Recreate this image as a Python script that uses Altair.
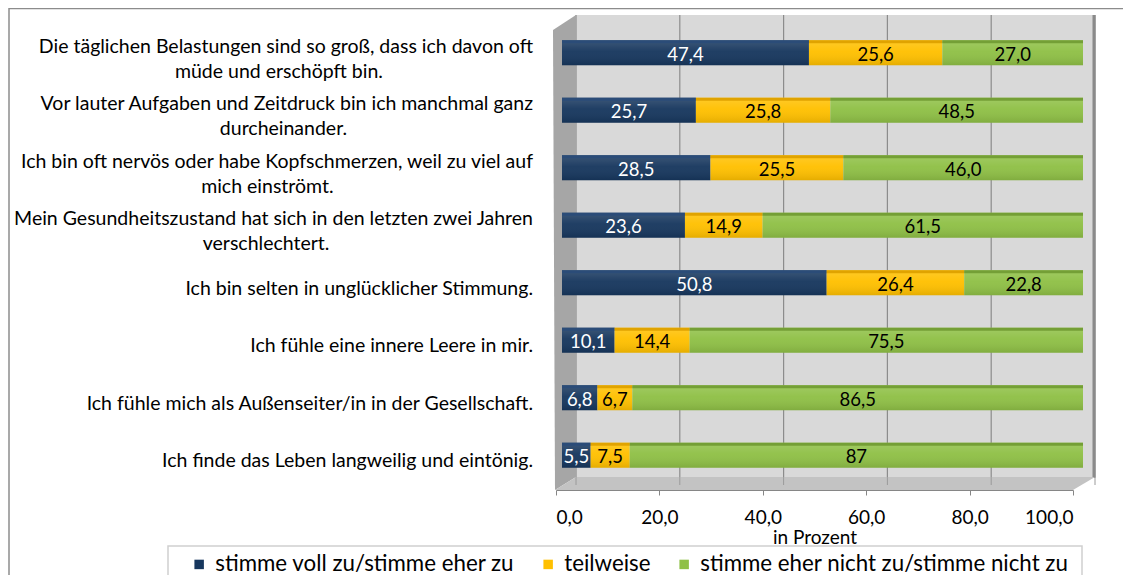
import altair as alt
import pandas as pd

# ---------------- data ----------------
categories = [
    "Die täglichen Belastungen sind so groß, dass ich davon oft\nmüde und erschöpft bin.",
    "Vor lauter Aufgaben und Zeitdruck bin ich manchmal ganz\ndurcheinander.",
    "Ich bin oft nervös oder habe Kopfschmerzen, weil zu viel auf\nmich einströmt.",
    "Mein Gesundheitszustand hat sich in den letzten zwei Jahren\nverschlechtert.",
    "Ich bin selten in unglücklicher Stimmung.",
    "Ich fühle eine innere Leere in mir.",
    "Ich fühle mich als Außenseiter/in in der Gesellschaft.",
    "Ich finde das Leben langweilig und eintönig.",
]
series = [
    "stimme voll zu/stimme eher zu",
    "teilweise",
    "stimme eher nicht zu/stimme nicht zu",
]
agree = [47.4, 25.7, 28.5, 23.6, 50.8, 10.1, 6.8, 5.5]
partly = [25.6, 25.8, 25.5, 14.9, 26.4, 14.4, 6.7, 7.5]
disagree = [27.0, 48.5, 46.0, 61.5, 22.8, 75.5, 86.5, 87]
x_ticks = [0, 20, 40, 60, 80, 100]

colors = ["#17375e", "#ffc000", "#8fc046"]
top_colors = ["#2b4c78", "#e0a300", "#749f36"]
text_colors = ["white", "black", "black"]

FONT = "Lato"
CAT_FS = 19.5
VAL_FS = 18.5
AX_FS = 19
LEG_FS = 22.3

# ---------------- tables ----------------
rows = [f"r{i}" for i in range(len(categories))]

def fmt(v):
    if isinstance(v, int):
        return str(v)
    return f"{v:.1f}".replace(".", ",")

recs = []
for i, r in enumerate(rows):
    start = 0.0
    for s, vals in enumerate([agree, partly, disagree]):
        v = vals[i]
        recs.append({
            "row": r, "series": series[s], "start": start, "end": start + v,
            "mid": start + v / 2, "label": fmt(v), "tc": text_colors[s],
            "topc": top_colors[s], "ord": s,
        })
        start += v
bars = pd.DataFrame(recs)

# rough text width estimate (for centring the second line under the first)
def est_width(t, fs):
    w = 0.0
    for ch in t:
        if ch in "ilfjtr.,' ":
            w += 4.9
        elif ch in "mwMW":
            w += 13.0
        elif ch.isupper():
            w += 10.0
        else:
            w += 8.4
    return w * fs / 16.0

LABEL_RIGHT = -29
single, first, second = [], [], []
for r, c in zip(rows, categories):
    parts = c.split("\n")
    if len(parts) == 1:
        single.append({"row": r, "t": parts[0]})
    else:
        first.append({"row": r, "t": parts[0]})
        second.append({"row": r, "t": parts[1],
                       "cx": LABEL_RIGHT - est_width(parts[0], CAT_FS) / 2})
single = pd.DataFrame(single)
first = pd.DataFrame(first)
second = pd.DataFrame(second)
ticks = pd.DataFrame({"t": x_ticks})
one = pd.DataFrame({"a": [0]})

yenc = alt.Y("row:N", sort=rows,
             scale=alt.Scale(paddingInner=0, paddingOuter=0),
             axis=alt.Axis(labels=False, tickBand="extent", tickSize=5,
                           domainColor="#868686", tickColor="#868686",
                           offset=9, title=None, grid=False))
ynoaxis = alt.Y("row:N", sort=rows, axis=None)

xbar = alt.Scale(domain=[0, 100], range=[0, 521])

# ---------------- frame (3D walls) ----------------
def poly(path, color):
    return alt.Chart(one).mark_point(
        shape=path, size=4, filled=True, fill=color, opacity=1, strokeWidth=0
    ).encode(x=alt.value(0), y=alt.value(0))

left_wall = poly("M-9,0 L14,-15 L14,447 L-7,460 Z", "#a6a6a6")
floor = poly("M-7,460 L14,447 L533,447 L511,460 Z", "#c3c3c3")
back_wall = alt.Chart(one).mark_rect(color="#d9d9d9").encode(
    x=alt.value(14), x2=alt.value(533), y=alt.value(-15), y2=alt.value(447))
right_edge = alt.Chart(one).mark_rule(color="#8a8a8a", strokeWidth=3).encode(
    x=alt.value(532), y=alt.value(-15), y2=alt.value(448))

grid = alt.Chart(ticks).mark_rule(color="#8c8c8c", strokeWidth=1.2).encode(
    x=alt.X("t:Q", scale=alt.Scale(domain=[0, 100], range=[14, 533]), axis=None),
    y=alt.value(-15), y2=alt.value(447))
floor_grid = alt.Chart(ticks).mark_rule(color="#9a9a9a", strokeWidth=1).encode(
    x=alt.X("t:Q", scale=alt.Scale(domain=[0, 100], range=[14, 533]), axis=None),
    y=alt.value(447), y2=alt.value(455))

front_axis = alt.Chart(ticks).mark_tick(opacity=0).encode(
    x=alt.X("t:Q", scale=alt.Scale(domain=[0, 100], range=[-6, 511]),
            axis=alt.Axis(orient="bottom", values=x_ticks, title="in Prozent",
                          labelExpr="replace(format(datum.value, '.1f'), '.', ',')",
                          labelFontSize=AX_FS, labelFont=FONT, labelColor="black",
                          labelPadding=13, tickSize=5, tickColor="#868686",
                          domainColor="#868686", grid=False,
                          titleFont=FONT, titleFontSize=AX_FS, titleFontWeight="normal",
                          titleColor="black", titlePadding=1)),
    y=alt.value(460))

# ---------------- bars ----------------
main = alt.Chart(bars).mark_bar(size=25, yOffset=-6).encode(
    x=alt.X("start:Q", scale=xbar, axis=None), x2="end:Q",
    y=yenc,
    color=alt.Color("series:N", sort=series,
                    scale=alt.Scale(domain=series, range=colors),
                    legend=alt.Legend(orient="none", direction="horizontal",
                                      legendX=-374, legendY=523, title=None,
                                      symbolType="square", symbolSize=90,
                                      symbolStrokeWidth=0, labelFont=FONT,
                                      labelFontSize=LEG_FS, labelColor="black",
                                      columnPadding=22, labelOffset=5,
                                      labelLimit=600)),
    order=alt.Order("ord:Q"))

sheen = alt.Chart(bars).mark_bar(
    size=25, yOffset=-6,
    color=alt.Gradient(gradient="linear", x1=0, x2=0, y1=0, y2=1, stops=[
        alt.GradientStop(color="rgba(255,255,255,0.16)", offset=0),
        alt.GradientStop(color="rgba(255,255,255,0.04)", offset=0.45),
        alt.GradientStop(color="rgba(0,0,0,0.10)", offset=1)])
).encode(x=alt.X("start:Q", scale=xbar, axis=None), x2="end:Q", y=ynoaxis)

top_strip = alt.Chart(bars).mark_bar(size=3, yOffset=-17).encode(
    x=alt.X("start:Q", scale=xbar, axis=None), x2="end:Q", y=ynoaxis,
    color=alt.Color("topc:N", scale=None))

values = alt.Chart(bars).mark_text(font=FONT, fontSize=VAL_FS, baseline="middle",
                                   yOffset=-4).encode(
    x=alt.X("mid:Q", scale=xbar, axis=None), y=ynoaxis,
    text="label:N", color=alt.Color("tc:N", scale=None))

# ---------------- category labels ----------------
lab_single = alt.Chart(single).mark_text(font=FONT, fontSize=CAT_FS, align="right",
                                         baseline="middle", color="black").encode(
    x=alt.value(LABEL_RIGHT), y=ynoaxis, text="t:N")
lab_first = alt.Chart(first).mark_text(font=FONT, fontSize=CAT_FS, align="right",
                                       baseline="middle", color="black",
                                       yOffset=-12).encode(
    x=alt.value(LABEL_RIGHT), y=ynoaxis, text="t:N")
lab_second = alt.Chart(second).mark_text(font=FONT, fontSize=CAT_FS, align="center",
                                         baseline="middle", color="black",
                                         yOffset=13).encode(
    x=alt.X("cx:Q", scale=None), y=ynoaxis, text="t:N")

# ---------------- borders ----------------
outer_left = alt.Chart(one).mark_rule(color="#8c8c8c", strokeWidth=1.5).encode(
    x=alt.value(-553), y=alt.value(-22), y2=alt.value(560))
outer_top = alt.Chart(one).mark_rule(color="#8c8c8c", strokeWidth=1.5).encode(
    x=alt.value(-553), x2=alt.value(600), y=alt.value(-21.5))
legend_box = alt.Chart(one).mark_rect(fill="white", stroke="#d0d0d0",
                                      strokeWidth=1.5).encode(
    x=alt.value(-394), x2=alt.value(520), y=alt.value(516), y2=alt.value(570))

chart = alt.layer(
    legend_box, back_wall, grid, right_edge, left_wall, floor, floor_grid,
    main, sheen, top_strip, values,
    lab_single, lab_first, lab_second, front_axis, outer_left, outer_top,
).resolve_scale(x="independent").properties(
    width=521, height=460,
    padding={"left": 554, "top": 22, "right": 40, "bottom": 85},
    autosize=alt.AutoSizeParams(type="none"),
    background="white",
).configure_view(stroke=None)

chart.save("out.html", embed_options={"renderer": "svg", "actions": False})
